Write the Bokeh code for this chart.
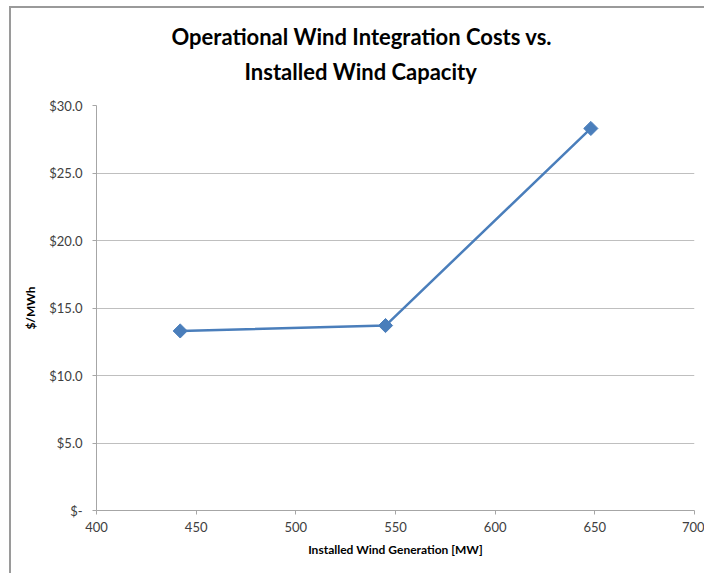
import math
from bokeh.plotting import figure
from bokeh.models import Range1d, FixedTicker, CustomJSTickFormatter, Title
from bokeh.embed import file_html
from bokeh.resources import INLINE

capacity_mw = [442, 545, 648]
cost_per_mwh = [13.3, 13.7, 28.3]
y_ticks = [0, 5, 10, 15, 20, 25, 30]
x_ticks = [400, 450, 500, 550, 600, 650, 700]
title_lines = ["Operational Wind Integration Costs vs.", "Installed Wind Capacity"]

FONT = "Lato"
BLUE = "#4A7EBB"

p = figure(width=695, height=567, output_backend="svg", toolbar_location=None,
           x_range=Range1d(400, 700), y_range=Range1d(0, 30), title=None,
           min_border_left=85, min_border_right=12, min_border_top=97, min_border_bottom=65)
p.outline_line_color = None
p.background_fill_color = "white"
p.border_fill_color = "white"

# spacer between frame and the title block
p.add_layout(Title(text=" ", text_font_size="10px", standoff=8), "above")
for txt, offset, standoff in [(title_lines[1], 148, 0), (title_lines[0], 75, 11)]:
    p.add_layout(Title(text=txt, align="left", offset=offset, standoff=standoff,
                       text_font=FONT, text_font_style="bold", text_font_size="22px",
                       text_line_height=1.0, text_color="#000000"), "above")

p.xgrid.grid_line_color = None
p.ygrid.grid_line_color = "#BFBFBF"
p.ygrid.grid_line_width = 1

p.xaxis.ticker = FixedTicker(ticks=x_ticks)
p.yaxis.ticker = FixedTicker(ticks=y_ticks)
p.yaxis.formatter = CustomJSTickFormatter(code="return tick == 0 ? '$-' : '$' + tick.toFixed(1);")
for ax in (p.xaxis[0], p.yaxis[0]):
    ax.axis_line_color = "#A6A6A6"
    ax.major_tick_line_color = "#A6A6A6"
    ax.minor_tick_line_color = None
    ax.major_tick_in = 0
    ax.major_tick_out = 4
    ax.major_label_text_font = FONT
    ax.major_label_text_font_size = "13px"
    ax.major_label_text_color = "#404040"
    ax.axis_label_text_font = FONT
    ax.axis_label_text_font_size = "12px"
    ax.axis_label_text_font_style = "bold"
    ax.axis_label_text_color = "#000000"
p.xaxis.axis_label = "Installed Wind Generation [MW]"
p.yaxis.axis_label = "$/MWh"
p.xaxis.major_label_standoff = 7
p.yaxis.major_label_standoff = 10
p.xaxis.axis_label_standoff = 7
p.yaxis.axis_label_standoff = 8

p.line(capacity_mw, cost_per_mwh, line_color=BLUE, line_width=2.5)
p.scatter(capacity_mw, cost_per_mwh, marker="square", angle=math.pi / 4, size=10,
          fill_color=BLUE, line_color=BLUE)

p.styles = {"border-top": "2px solid #9a9a9a", "border-left": "2px solid #9a9a9a",
            "margin-left": "9px", "margin-top": "6px"}

open("out.html", "w").write(file_html(p, INLINE))
